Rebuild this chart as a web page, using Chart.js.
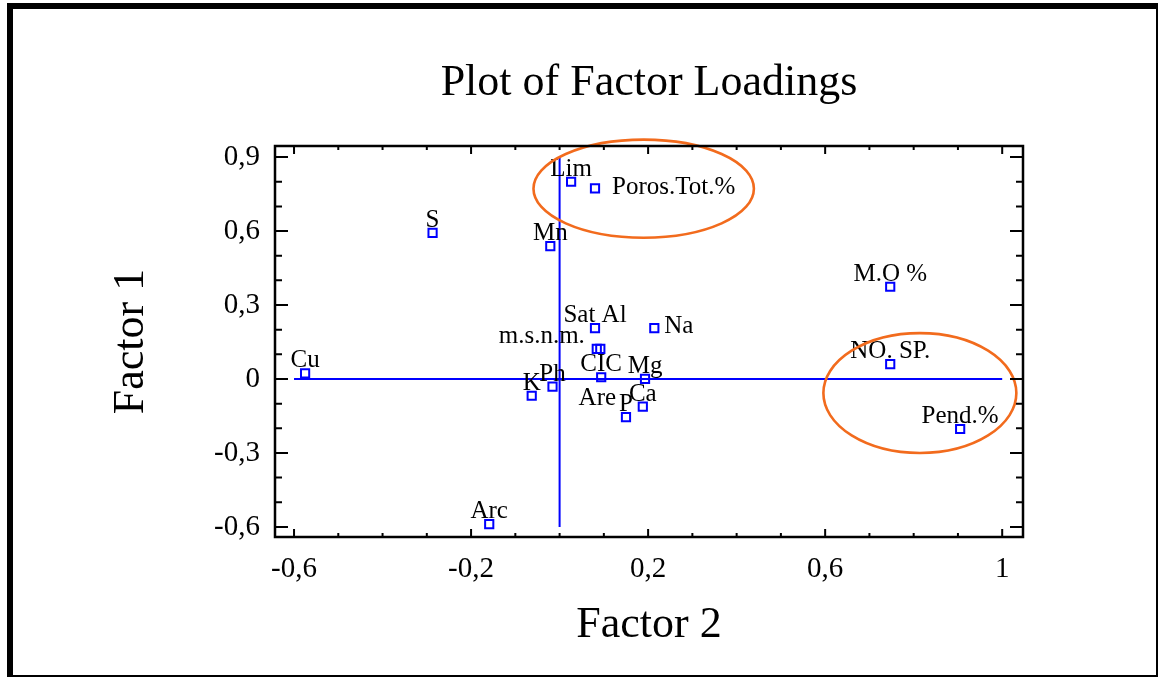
<!DOCTYPE html>
<html>
<head>
<meta charset="utf-8">
<title>Plot of Factor Loadings</title>
<script src="https://cdn.jsdelivr.net/npm/chart.js@4.4.1/dist/chart.umd.min.js"></script>
<style>
  html, body { margin: 0; padding: 0; background: #fff; }
  #wrap { width: 1160px; height: 677px; }
  canvas { display: block; }
</style>
</head>
<body>
<div id="wrap"><canvas id="loadingsChart" width="1160" height="677"></canvas></div>
<script>
// factor loadings
const variables = ["Lim", "Poros.Tot.%", "S", "Mn", "M.O %", "Sat Al", "Na", "m.s.n.m.", "Are",
                   "CIC", "Cu", "Mg", "NO. SP.", "K", "Ph", "P", "Ca", "Pend.%", "Arc"];
const factor2 = [0.026, 0.080, -0.287, -0.021, 0.747, 0.080, 0.214, 0.084, 0.092,
                 0.094, -0.575, 0.193, 0.747, -0.063, -0.016, 0.150, 0.188, 0.905, -0.159];
const factor1 = [0.800, 0.773, 0.593, 0.539, 0.374, 0.206, 0.206, 0.122, 0.122,
                 0.007, 0.023, 0.000, 0.060, -0.068, -0.031, -0.155, -0.112, -0.203, -0.589];

const xTickValues = [-0.6, -0.2, 0.2, 0.6, 1];
const yTickValues = [-0.6, -0.3, 0, 0.3, 0.6, 0.9];

// orange highlight ellipses (centre and radii in factor units)
const highlights = [
    { cx: 0.190, cy: 0.772, rx: 0.249, ry: 0.199 },
    { cx: 0.814, cy: -0.057, rx: 0.218, ry: 0.243 }
];

// labels that were moved away from the default "above the point" spot
const labelShift = {
    "Poros.Tot.%": { dx: 17, dy: -1, align: "left", base: "middle" },
    "Na": { dx: 10, dy: -2, align: "left", base: "middle" },
    "m.s.n.m.": { dx: -55, dy: -6 },
    "Are": { dx: -3, dy: 56 }
};

const serif = '"Liberation Serif", "Times New Roman", serif';
const blue = "#0000ff";
const orange = "#f26b1d";

function fmt(v) {
    if (Math.abs(v) < 1e-9) return "0";
    return String(+v.toFixed(1)).replace(".", ",");
}

function isMajor(v, list) {
    return list.some(t => Math.abs(t - v) < 1e-6);
}

const decorations = {
    id: "decorations",
    beforeDatasetsDraw(chart) {
        const { ctx, scales: { x, y } } = chart;
        ctx.save();
        ctx.strokeStyle = blue;
        ctx.lineWidth = 2;
        ctx.beginPath();
        // zero reference lines
        ctx.moveTo(x.getPixelForValue(xTickValues[0]), y.getPixelForValue(0));
        ctx.lineTo(x.getPixelForValue(xTickValues[xTickValues.length - 1]), y.getPixelForValue(0));
        ctx.moveTo(x.getPixelForValue(0), y.getPixelForValue(yTickValues[0]));
        ctx.lineTo(x.getPixelForValue(0), y.getPixelForValue(yTickValues[yTickValues.length - 1]));
        ctx.stroke();
        ctx.restore();
    },
    afterDatasetsDraw(chart) {
        const { ctx, scales: { x, y } } = chart;
        const pts = chart.getDatasetMeta(0).data;
        ctx.save();
        ctx.fillStyle = "#000";
        ctx.font = "25px " + serif;
        pts.forEach((p, i) => {
            const name = variables[i];
            const s = labelShift[name] || {};
            ctx.textAlign = s.align || "center";
            ctx.textBaseline = s.base || "alphabetic";
            ctx.fillText(name, p.x + (s.dx || 0), p.y + (s.dy !== undefined ? s.dy : -6));
        });

        ctx.strokeStyle = orange;
        ctx.lineWidth = 2.6;
        highlights.forEach(h => {
            const cx = x.getPixelForValue(h.cx);
            const cy = y.getPixelForValue(h.cy);
            const rx = Math.abs(x.getPixelForValue(h.cx + h.rx) - cx);
            const ry = Math.abs(y.getPixelForValue(h.cy + h.ry) - cy);
            ctx.beginPath();
            ctx.ellipse(cx, cy, rx, ry, 0, 0, Math.PI * 2);
            ctx.stroke();
        });
        ctx.restore();
    },
    afterDraw(chart) {
        const { ctx, chartArea: a, scales: { x, y } } = chart;
        ctx.save();
        ctx.strokeStyle = "#000";
        ctx.lineWidth = 2.5;
        ctx.strokeRect(a.left, a.top, a.right - a.left, a.bottom - a.top);

        // inward tick marks on all four sides
        ctx.lineWidth = 2;
        ctx.beginPath();
        for (let k = -6; k <= 10; k++) {
            const v = k / 10;
            const px = x.getPixelForValue(v);
            const len = isMajor(v, xTickValues) ? 8 : 4;
            ctx.moveTo(px, a.bottom); ctx.lineTo(px, a.bottom - len);
            ctx.moveTo(px, a.top); ctx.lineTo(px, a.top + len);
        }
        for (let k = -6; k <= 9; k++) {
            const v = k / 10;
            const py = y.getPixelForValue(v);
            const len = isMajor(v, yTickValues) ? 13 : 7;
            ctx.moveTo(a.left, py); ctx.lineTo(a.left + len, py);
            ctx.moveTo(a.right, py); ctx.lineTo(a.right - len, py);
        }
        ctx.stroke();

        // page frame
        ctx.fillStyle = "#000";
        ctx.fillRect(7, 3, 1151, 6);
        ctx.fillRect(7, 3, 6, 674);
        ctx.fillRect(1156, 3, 2, 674);
        ctx.fillRect(7, 675, 1151, 2);
        ctx.restore();
    }
};

const ctx = document.getElementById("loadingsChart").getContext("2d");
new Chart(ctx, {
    type: "scatter",
    data: {
        datasets: [{
            label: "Factor loadings",
            data: factor2.map((v, i) => ({ x: v, y: factor1[i] })),
            pointStyle: "rect",
            pointRadius: 5.8,
            pointBorderWidth: 2,
            pointBorderColor: blue,
            pointBackgroundColor: "rgba(0,0,0,0)"
        }]
    },
    options: {
        responsive: false,
        animation: false,
        layout: { padding: { left: 0, right: 137, top: 0, bottom: 0 } },
        plugins: {
            legend: { display: false },
            tooltip: { enabled: false },
            title: {
                display: true,
                text: "Plot of Factor Loadings",
                fullSize: false,
                color: "#000",
                font: { family: serif, size: 44, weight: "normal", lineHeight: 1.2 },
                padding: { top: 56.6, bottom: 36.6 }
            }
        },
        scales: {
            x: {
                type: "linear",
                min: -0.643,
                max: 1.047,
                afterBuildTicks: scale => { scale.ticks = xTickValues.map(v => ({ value: v })); },
                afterFit: scale => { scale.height = 140; },
                grid: { display: false, drawTicks: false },
                border: { display: false },
                ticks: {
                    color: "#000",
                    padding: 15,
                    maxRotation: 0,
                    font: { family: serif, size: 29 },
                    callback: v => fmt(v)
                },
                title: {
                    display: true,
                    text: "Factor 2",
                    color: "#000",
                    font: { family: serif, size: 44, lineHeight: 1.2 },
                    padding: { top: 0, bottom: 25.6 }
                }
            },
            y: {
                type: "linear",
                min: -0.641,
                max: 0.945,
                afterBuildTicks: scale => { scale.ticks = yTickValues.map(v => ({ value: v })); },
                afterFit: scale => { scale.width = 275; },
                grid: { display: false, drawTicks: false },
                border: { display: false },
                ticks: {
                    color: "#000",
                    padding: 15,
                    font: { family: serif, size: 29 },
                    callback: v => fmt(v)
                },
                title: {
                    display: true,
                    text: "Factor 1",
                    color: "#000",
                    font: { family: serif, size: 44, lineHeight: 1.2 },
                    padding: { top: 104.6, bottom: 0 }
                }
            }
        }
    },
    plugins: [decorations]
});
</script>
</body>
</html>
